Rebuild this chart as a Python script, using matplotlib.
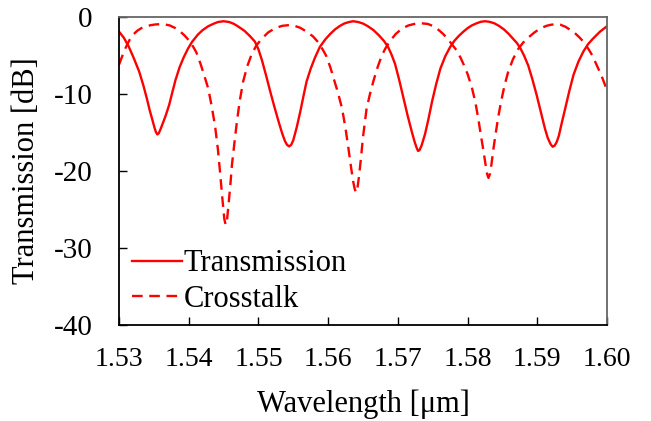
import matplotlib
matplotlib.use("Agg")
import matplotlib.pyplot as plt

# Wavelength [um] and transmission [dB]
trans_wl = [1.5300, 1.5307, 1.5314, 1.5321, 1.5329, 1.5335, 1.5340, 1.5344,
            1.5348, 1.5351, 1.5353, 1.5355, 1.5357, 1.5359, 1.5362, 1.5367,
            1.5372, 1.5377, 1.5381, 1.5387, 1.5393, 1.5399, 1.5405, 1.5413,
            1.5420, 1.5428, 1.5435, 1.5442, 1.5450, 1.5458, 1.5465, 1.5472,
            1.5480, 1.5488, 1.5495, 1.5500, 1.5505, 1.5511, 1.5517, 1.5523,
            1.5529, 1.5534, 1.5538, 1.5541, 1.5544, 1.5547, 1.5550, 1.5555,
            1.5560, 1.5565, 1.5569, 1.5575, 1.5581, 1.5588, 1.5596, 1.5603,
            1.5610, 1.5617, 1.5623, 1.5630, 1.5636, 1.5643, 1.5650, 1.5657,
            1.5665, 1.5673, 1.5680, 1.5686, 1.5691, 1.5696, 1.5702, 1.5708,
            1.5714, 1.5720, 1.5724, 1.5727, 1.5729, 1.5731, 1.5734, 1.5739,
            1.5744, 1.5749, 1.5755, 1.5761, 1.5768, 1.5775, 1.5781, 1.5787,
            1.5794, 1.5800, 1.5806, 1.5812, 1.5819, 1.5825, 1.5831, 1.5838,
            1.5845, 1.5852, 1.5859, 1.5865, 1.5871, 1.5876, 1.5881, 1.5887,
            1.5893, 1.5899, 1.5905, 1.5911, 1.5915, 1.5919, 1.5922, 1.5925,
            1.5928, 1.5931, 1.5935, 1.5940, 1.5946, 1.5952, 1.5959, 1.5966,
            1.5973, 1.5980, 1.5990, 1.6000]
trans_db = [-1.9, -2.7, -3.85, -5.3, -7.1, -8.9, -10.6, -12.1,
            -13.4, -14.4, -14.95, -15.25, -15.1, -14.7, -14.0, -12.8,
            -11.4, -9.6, -8.2, -6.5, -5.2, -4.1, -3.2, -2.3,
            -1.7, -1.2, -0.9, -0.65, -0.55, -0.65, -0.9, -1.3,
            -1.8, -2.5, -3.2, -4.2, -5.6, -7.6, -9.7, -11.7,
            -13.6, -15.1, -16.1, -16.6, -16.8, -16.6, -16.0, -14.3,
            -12.3, -10.1, -8.4, -6.7, -5.3, -3.9, -2.9, -2.2,
            -1.6, -1.15, -0.85, -0.65, -0.55, -0.65, -0.85, -1.2,
            -1.7, -2.4, -3.1, -3.9, -4.9, -6.1, -8.2, -10.5,
            -12.8, -14.9, -16.2, -17.0, -17.4, -17.3, -16.7, -15.2,
            -13.2, -11.0, -8.7, -6.7, -5.1, -3.9, -3.1, -2.5,
            -1.9, -1.45, -1.1, -0.85, -0.62, -0.55, -0.62, -0.8,
            -1.15, -1.6, -2.2, -2.8, -3.4, -4.1, -5.0, -6.3,
            -8.1, -10.1, -12.3, -14.5, -15.7, -16.5, -16.85, -16.7,
            -16.2, -15.4, -13.8, -11.9, -9.6, -7.5, -5.8, -4.5,
            -3.5, -2.8, -1.9, -1.2]

cross_wl = [1.5300, 1.5305, 1.5310, 1.5315, 1.5319, 1.5326, 1.5332, 1.5338,
            1.5345, 1.5352, 1.5359, 1.5366, 1.5373, 1.5381, 1.5388, 1.5394,
            1.5400, 1.5406, 1.5411, 1.5417, 1.5423, 1.5428, 1.5433, 1.5438,
            1.5442, 1.5445, 1.5448, 1.5451, 1.5453, 1.5455, 1.5457, 1.5460,
            1.5462, 1.5466, 1.5469, 1.5473, 1.5478, 1.5484, 1.5490, 1.5497,
            1.5505, 1.5514, 1.5524, 1.5534, 1.5544, 1.5552, 1.5560, 1.5569,
            1.5578, 1.5586, 1.5592, 1.5597, 1.5603, 1.5608, 1.5614, 1.5620,
            1.5625, 1.5629, 1.5633, 1.5636, 1.5638, 1.5640, 1.5642, 1.5644,
            1.5647, 1.5650, 1.5655, 1.5660, 1.5665, 1.5671, 1.5677, 1.5682,
            1.5688, 1.5697, 1.5706, 1.5715, 1.5725, 1.5734, 1.5743, 1.5751,
            1.5758, 1.5765, 1.5772, 1.5778, 1.5784, 1.5790, 1.5795, 1.5800,
            1.5806, 1.5811, 1.5815, 1.5819, 1.5823, 1.5826, 1.5828, 1.5830,
            1.5832, 1.5834, 1.5837, 1.5840, 1.5844, 1.5848, 1.5853, 1.5858,
            1.5865, 1.5873, 1.5880, 1.5888, 1.5896, 1.5904, 1.5913, 1.5920,
            1.5926, 1.5933, 1.5940, 1.5947, 1.5954, 1.5960, 1.5966, 1.5973,
            1.5979, 1.5985, 1.5992, 1.6000]
cross_db = [-6.2, -5.0, -3.9, -3.0, -2.4, -1.8, -1.45, -1.25,
            -1.07, -0.97, -0.93, -0.97, -1.1, -1.45, -1.9, -2.4,
            -3.0, -3.8, -4.6, -6.1, -7.8, -9.3, -11.6, -14.3,
            -17.3, -20.2, -23.3, -26.2, -27.0, -26.3, -24.5, -21.5,
            -19.2, -16.0, -13.7, -11.0, -8.4, -6.4, -4.9, -3.7,
            -2.8, -2.0, -1.45, -1.15, -1.05, -1.15, -1.4, -1.9,
            -2.5, -3.3, -4.2, -5.0, -6.5, -8.0, -9.8, -11.9,
            -14.5, -17.0, -19.6, -21.4, -22.3, -22.8, -22.2, -20.9,
            -18.4, -15.6, -12.0, -10.0, -8.3, -6.5, -5.0, -4.1,
            -3.2, -2.2, -1.5, -1.1, -0.87, -0.82, -0.9, -1.2,
            -1.65, -2.2, -2.9, -3.6, -4.3, -5.3, -6.3, -7.4,
            -9.1, -11.0, -13.0, -15.3, -17.5, -19.3, -20.4, -20.9,
            -20.4, -19.3, -17.2, -15.3, -13.0, -11.0, -8.9, -7.2,
            -5.5, -4.1, -3.3, -2.6, -2.0, -1.5, -1.15, -1.0,
            -0.95, -1.0, -1.25, -1.65, -2.1, -2.6, -3.2, -4.1,
            -5.0, -6.2, -7.6, -9.5]

xticks = [1.53, 1.54, 1.55, 1.56, 1.57, 1.58, 1.59, 1.60]
xticklabels = ["1.53", "1.54", "1.55", "1.56", "1.57", "1.58", "1.59", "1.60"]
yticks = [0, -10, -20, -30, -40]
yticklabels = ["0", "-10", "-20", "-30", "-40"]

plt.rcParams['font.family'] = ['Liberation Serif', 'DejaVu Serif']

fig = plt.figure(figsize=(6.51, 4.21), dpi=100)
ax = fig.add_axes([119/651, 1-325/421, (607-119)/651, (325-17)/421])

red = '#ff0000'
ax.plot(trans_wl, trans_db, color=red, lw=1.7, label='Transmission')
ax.plot(cross_wl, cross_db, color=red, lw=1.7, dashes=(4.5, 2.8), label='Crosstalk')

ax.set_xlim(1.53, 1.60)
ax.set_ylim(-40, 0)
ax.set_xticks(xticks)
ax.set_xticklabels(xticklabels)
ax.set_yticks(yticks)
ax.set_yticklabels(yticklabels)
ax.tick_params(direction='in', length=6, width=1.0, labelsize=20,
               top=False, right=False)
ax.tick_params(axis='x', pad=16)
ax.tick_params(axis='y', labelsize=21, pad=19)

for s in ['left', 'bottom']:
    ax.spines[s].set_color('black')
    ax.spines[s].set_linewidth(1.3)
for s in ['top', 'right']:
    ax.spines[s].set_color('#666666')
    ax.spines[s].set_linewidth(1.3)

ax.set_xlabel('Wavelength [\u03bcm]', fontsize=22)
ax.set_ylabel('Transmission [dB]', fontsize=22)
ax.xaxis.set_label_coords(0.5, -0.21)
ax.yaxis.set_label_coords(-0.16, 0.5)

ax.legend(loc='center left', frameon=False, fontsize=22, handlelength=1.64,
          handletextpad=0.05, labelspacing=0.21, borderpad=0.0,
          borderaxespad=0.0, bbox_to_anchor=(0.026, 0.141))

fig.savefig('out.png', dpi=100)
